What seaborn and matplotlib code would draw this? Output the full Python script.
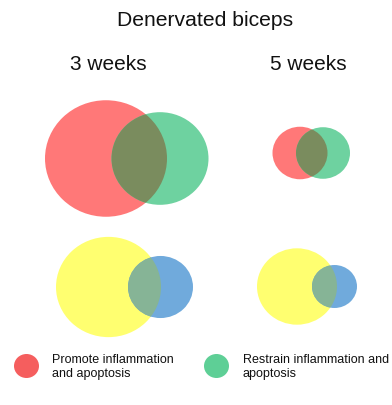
import matplotlib
matplotlib.use("Agg")
import matplotlib.pyplot as plt
from matplotlib.patches import Ellipse
import seaborn as sns

# ---- data ----
title = "Denervated biceps"
timepoints = ["3 weeks", "5 weeks"]
legend_labels = ["Promote inflammation\nand apoptosis", "Restrain inflammation and\napoptosis"]
# relative set sizes (circle radii) per timepoint
promote_size = [61, 27.5]
restrain_size = [48.5, 27]
set_a_size = [52.5, 40]
set_b_size = [32.5, 22.5]

sns.set_style("white")
plt.rcParams["font.family"] = ["Liberation Sans", "DejaVu Sans"]

fig = plt.figure(figsize=(3.92, 4.06), dpi=100)
ax = fig.add_axes([0, 0, 1, 1])
ax.set_xlim(0, 392)
ax.set_ylim(406, 0)
ax.axis("off")

SQ = 0.955  # vertical squash of circles

def venn(cx1, cx2, cy, r1, r2, c1, c2, cov):
    e1 = Ellipse((cx1, cy), 2 * r1, 2 * r1 * SQ, facecolor=c1, edgecolor="none", zorder=1)
    e2 = Ellipse((cx2, cy), 2 * r2, 2 * r2 * SQ, facecolor=c2, edgecolor="none", zorder=2)
    ax.add_patch(e1)
    ax.add_patch(e2)
    clip = Ellipse((cx1, cy), 2 * r1, 2 * r1 * SQ, facecolor="none", edgecolor="none")
    ax.add_patch(clip)
    e3 = Ellipse((cx2, cy), 2 * r2, 2 * r2 * SQ, facecolor=cov, edgecolor="none", zorder=3)
    ax.add_patch(e3)
    e3.set_clip_path(clip)

RED, GREEN, RG = "#ff7878", "#6ed2a0", "#7a8c5e"
YEL, BLUE, YB = "#ffff70", "#70aadc", "#86b496"

col_x = [106, 300]
# top row
venn(col_x[0], col_x[0] + 54, 159.5, promote_size[0], restrain_size[0], RED, GREEN, RG)
venn(col_x[1], col_x[1] + 23, 154, promote_size[1], restrain_size[1], RED, GREEN, RG)
# bottom row
venn(108.5, 160.5, 288, set_a_size[0], set_b_size[0], YEL, BLUE, YB)
venn(297, 334.5, 287.5, set_a_size[1], set_b_size[1], YEL, BLUE, YB)

ax.text(205, 20, title, ha="center", va="center", fontsize=15.2, color="#111111")
ax.text(108, 65, timepoints[0], ha="center", va="center", fontsize=15, color="#111111")
ax.text(308, 65, timepoints[1], ha="center", va="center", fontsize=15, color="#111111")

# legend
for x, c, lab, tx in [(26.5, "#f55e5e", legend_labels[0], 52), (216.5, "#5ecf96", legend_labels[1], 243)]:
    ax.add_patch(Ellipse((x, 367), 25, 24, facecolor=c, edgecolor="none"))
    ax.text(tx, 367, lab, ha="left", va="center", fontsize=9, linespacing=1.2, color="#111111")

fig.savefig("out.png", dpi=100)
